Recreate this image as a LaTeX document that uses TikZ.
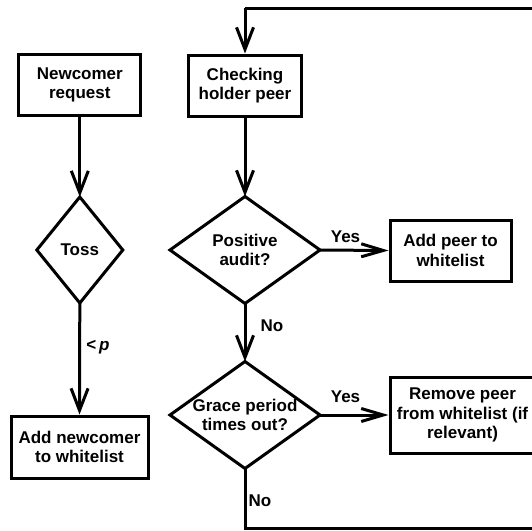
\documentclass[tikz,border=0pt]{standalone}
\usepackage{fontspec}
\setmainfont{Liberation Sans}
\usetikzlibrary{shapes.geometric,arrows.meta}
\begin{document}
\begin{tikzpicture}[x=1pt,y=-1pt,
  every node/.style={font=\fontsize{17}{19.5}\selectfont\bfseries, align=center},
  stepbox/.style={draw, line width=3pt, inner sep=0pt, minimum width=#1},
  decision/.style={draw, diamond, line width=3pt, inner sep=0pt, outer sep=0pt},
  flow/.style={line width=3pt, -{Straight Barb[length=22pt,width=17pt,line cap=butt]}},
  side/.style={line width=3pt, -{Straight Barb[length=22pt,width=13pt,line cap=butt]}},
  plain/.style={line width=3pt},
  lbl/.style={inner sep=0pt}
]
\useasboundingbox (0,0) rectangle (532,530);
\clip (0,0) rectangle (532,530);

% left branch: newcomers
\node[stepbox=122pt, minimum height=61pt] (newreq) at (79.8,85) {Newcomer\\request};
\node[decision, minimum width=86pt, minimum height=106pt] (toss) at (79.8,250) {};
\node at (toss) {Toss};
\node[stepbox=137pt, minimum height=62pt] (addnew) at (79.5,447) {Add newcomer\\to whitelist};

% right branch: audit of holder peers
\node[stepbox=113pt, minimum height=61pt] (check) at (245,85.5) {Checking\\holder peer};
\node[decision, minimum width=150pt, minimum height=107pt] (audit) at (245,250) {};
\node at (audit) {Positive\\audit?};
\node[stepbox=121pt, minimum height=61pt] (addpeer) at (450.5,250.5) {Add peer to\\whitelist};
\node[decision, minimum width=150pt, minimum height=107pt] (grace) at (245,415) {};
\node at (grace) {Grace period\\times out?};
\node[stepbox=145pt, minimum height=76pt] (remove) at (462.5,415) {Remove peer\\from whitelist (if\\relevant)};

% loop corners
\coordinate (bl) at (245,528.3);
\coordinate (br) at (545,528.3);
\coordinate (tr) at (545,8.3);
\coordinate (tl) at (245,8.3);

% connectors
\draw[flow] (newreq.south) -- (toss.north);
\draw[flow] (toss.south) -- (addnew.north);
\draw[flow] (check.south) -- (audit.north);
\draw[side] (audit.east) -- (addpeer.west);
\draw[flow] (audit.south) -- (grace.north);
\draw[side] (grace.east) -- (remove.west);
\draw[plain, line join=miter] (grace.south) -- (bl) -- (br) -- (tr) -- (tl);
\draw[flow, line join=miter] (tl) -- (check.north);

% edge labels
\node[lbl] (lp) at (98,347) {<\,\textit{p}};
\node[lbl] (yes1) at (345.5,237) {Yes};
\node[lbl] (no1) at (272,326) {No};
\node[lbl] (yes2) at (345.5,397) {Yes};
\node[lbl] (no2) at (260,501) {No};
\end{tikzpicture}
\end{document}
